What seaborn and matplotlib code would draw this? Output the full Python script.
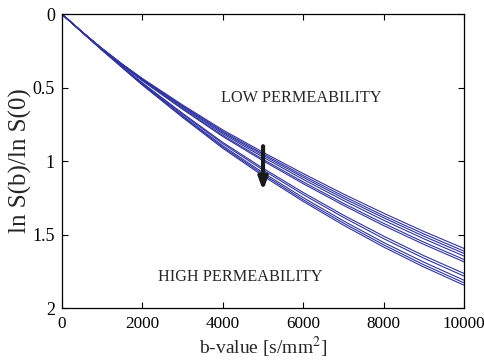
import pandas as pd
import matplotlib
matplotlib.use("Agg")
import matplotlib.pyplot as plt
import seaborn as sns

# b-values [s/mm^2] and the normalised log-signal curves
b_values = [0, 500, 1000, 1500, 2000, 3000, 4000, 5000, 6000, 7000, 8000, 9000, 10000]

curve_01 = [0, 0.121, 0.234, 0.340, 0.438, 0.618, 0.788, 0.940, 1.085, 1.224, 1.355, 1.479, 1.595]
curve_02 = [0, 0.121, 0.235, 0.341, 0.441, 0.624, 0.797, 0.951, 1.099, 1.239, 1.372, 1.496, 1.613]
curve_03 = [0, 0.121, 0.236, 0.343, 0.444, 0.629, 0.805, 0.961, 1.111, 1.253, 1.386, 1.512, 1.629]
curve_04 = [0, 0.121, 0.237, 0.345, 0.447, 0.635, 0.814, 0.973, 1.125, 1.268, 1.403, 1.529, 1.647]
curve_05 = [0, 0.121, 0.238, 0.347, 0.451, 0.643, 0.825, 0.988, 1.142, 1.288, 1.424, 1.552, 1.670]
curve_06 = [0, 0.122, 0.238, 0.349, 0.454, 0.648, 0.833, 0.998, 1.154, 1.301, 1.439, 1.567, 1.686]
curve_07 = [0, 0.123, 0.242, 0.357, 0.468, 0.675, 0.873, 1.049, 1.214, 1.368, 1.511, 1.644, 1.765]
curve_08 = [0, 0.123, 0.243, 0.358, 0.471, 0.681, 0.882, 1.061, 1.228, 1.383, 1.528, 1.661, 1.783]
curve_09 = [0, 0.123, 0.244, 0.361, 0.476, 0.691, 0.896, 1.079, 1.249, 1.407, 1.554, 1.688, 1.811]
curve_10 = [0, 0.123, 0.245, 0.363, 0.480, 0.697, 0.905, 1.090, 1.263, 1.422, 1.570, 1.706, 1.829]
curve_11 = [0, 0.124, 0.246, 0.365, 0.483, 0.703, 0.913, 1.101, 1.275, 1.436, 1.585, 1.721, 1.845]

curves = [curve_01, curve_02, curve_03, curve_04, curve_05, curve_06,
          curve_07, curve_08, curve_09, curve_10, curve_11]

x_ticks = [0, 2000, 4000, 6000, 8000, 10000]
y_ticks = [0, 0.5, 1, 1.5, 2]
y_tick_labels = ["0", "0.5", "1", "1.5", "2"]

rows = []
for i, c in enumerate(curves):
    for b, v in zip(b_values, c):
        rows.append({"b": b, "value": v, "curve": i})
df = pd.DataFrame(rows)

sns.set_theme(style="ticks")
plt.rcParams["font.family"] = ["Liberation Serif", "DejaVu Serif"]
plt.rcParams["mathtext.fontset"] = "stix"

fig = plt.figure(figsize=(4.84, 3.62), dpi=100)
ax = fig.add_axes([0.128, 0.149, 0.831, 0.812])

line_color = "#3034a0"
sns.lineplot(data=df, x="b", y="value", hue="curve",
             palette=[line_color] * len(curves), linewidth=0.8,
             legend=False, ax=ax)

ax.set_xlim(0, 10000)
ax.set_ylim(2, 0)
ax.set_xticks(x_ticks)
ax.set_xticklabels([str(t) for t in x_ticks])
ax.set_yticks(y_ticks)
ax.set_yticklabels(y_tick_labels)
ax.tick_params(direction="in", length=4, width=0.8, labelsize=13,
               top=True, right=True, colors="black")
ax.tick_params(axis="x", pad=6, labelsize=12.3)
ax.tick_params(axis="y", pad=5)
for s in ax.spines.values():
    s.set_visible(True)
    s.set_color("black")
    s.set_linewidth(0.9)

ax.set_xlabel("b-value [s/mm$^2$]", fontsize=14, labelpad=2)
ax.set_ylabel("ln S(b)/ln S(0)", fontsize=18)
ax.yaxis.set_label_coords(-0.075, 0.5)

ax.text(3950, 0.57, "LOW PERMEABILITY", fontsize=11.7, va="center", ha="left")
ax.text(2380, 1.79, "HIGH PERMEABILITY", fontsize=11.7, va="center", ha="left")

ax.annotate("", xy=(5000, 1.22), xytext=(5000, 0.88),
            arrowprops=dict(arrowstyle="-|>,head_width=0.22,head_length=0.6",
                            color="#1a1a1a", lw=3))

fig.savefig("out.png", dpi=100)
